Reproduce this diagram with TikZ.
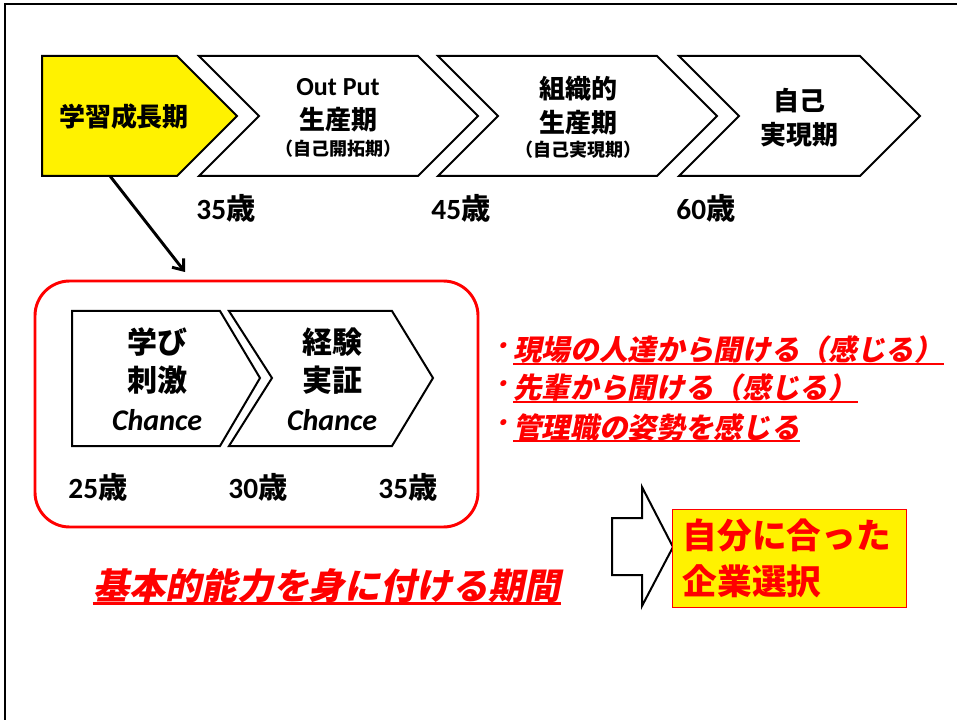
\documentclass[tikz,border=0pt]{standalone}
\usepackage{fontspec}
\setmainfont{Noto Sans CJK JP}
\newfontfamily\lat{Carlito}[BoldFont={Carlito Bold}, ItalicFont={Carlito Italic}, BoldItalicFont={Carlito Bold Italic}]
\newfontfamily\jpsl{Noto Sans CJK JP}[FakeSlant=0.2]
\newcommand{\num}[1]{{\lat\bfseries #1}}
\usetikzlibrary{arrows.meta, positioning}

\begin{document}
\begin{tikzpicture}[x=0.75pt, y=-0.75pt, line join=miter,
	every node/.style={anchor=center, inner sep=0pt, align=center},
	fase/.style={font=\fontsize{19.5}{25.5}\selectfont\bfseries},
	fasesub/.style={font=\fontsize{13.5}{16}\selectfont\bfseries},
	idade/.style={font=\fontsize{22}{26}\selectfont\bfseries},
	etapa/.style={font=\fontsize{22.5}{29}\selectfont\bfseries},
	contorno/.style={draw=black, line width=1.5pt},
	frase/.style={font=\fontsize{21.5}{26}\selectfont\jpsl\bfseries, text=red},
	sublinha/.style={draw=red, line width=1.8pt}]

			\useasboundingbox (0,0) rectangle (957,720);
			
			% Moldura
			\draw[line width=2.2pt] (5,730) -- (5,4) -- (965,4);
			
			% Fases (linha do topo)
			\draw[contorno, fill=yellow] (42,56) -- (177,56) -- (237,116) -- (177,176) -- (42,176) -- cycle;
			\foreach \a/\b in {199/418, 438/657, 679/860} {
				\draw[contorno] (\a,56) -- (\b,56) -- (\b+60,116) -- (\b,176) -- (\a,176) -- (\a+60,116) -- cycle;
			}
			
			\node[fase] (estudo) at (124,117) {学習成長期};
			\node[fase] (producao) at (338,105) {\num{Out Put}\\生産期};
			\node[fasesub] (producaosub) at (338,149) {（自己開拓期）};
			\node[fase] (organizacao) at (578,106) {組織的\\生産期};
			\node[fasesub] (organizacaosub) at (578,150) {（自己実現期）};
			\node[fase] (realizacao) at (799,118) {自己\\実現期};
			
			\node[idade] (i35) at (226,208) {\num{35}歳};
			\node[idade] (i45) at (461,208) {\num{45}歳};
			\node[idade] (i60) at (706,208) {\num{60}歳};
			
			% Seta para o detalhe
			\coordinate (ini) at (110,176);
			\coordinate (fim) at (185,272);
			\draw[line width=2.2pt, -{Straight Barb[length=7pt, width=11pt]}] (ini) -- (fim);
			
			% Detalhe (caixa vermelha)
			\draw[red, line width=2.2pt, rounded corners=26pt] (35,281) rectangle (478,527);
			\draw[contorno] (72,311) -- (220,311) -- (260,378) -- (220,446) -- (72,446) -- cycle;
			\draw[contorno] (229,311) -- (392,311) -- (433,378) -- (392,446) -- (229,446) -- (272,378) -- cycle;
			
			\node[etapa] (aprender) at (157,379) {学び\\刺激\\\num{\itshape Chance}};
			\node[etapa] (provar) at (332,379) {経験\\実証\\\num{\itshape Chance}};
			
			\node[idade] (i25) at (98,487) {\num{25}歳};
			\node[idade] (i30) at (258,487) {\num{30}歳};
			\node[idade] (i35b) at (408,487) {\num{35}歳};
			
			% Frases em vermelho
			\node[frase, anchor=west] (f1) at (513,350) {現場の人達から聞ける（感じる）};
			\node[frase, anchor=west] (f2) at (513,388) {先輩から聞ける（感じる）};
			\node[frase, anchor=west] (f3) at (513,427) {管理職の姿勢を感じる};
			\foreach \f in {f1,f2,f3} {
				\node[frase, anchor=east] (p\f) at ([xshift=-3pt]\f.west) {･};
				\draw[sublinha] (\f.south west) -- (\f.south east);
			}
			
			\node[font=\fontsize{27}{32}\selectfont\jpsl\bfseries, text=red] (basico) at (327,586) {基本的能力を身に付ける期間};
			\draw[sublinha] (basico.south west) -- (basico.south east);
			
			% Seta grossa e resultado
			\draw[contorno, fill=white] (612,518) -- (642,518) -- (642,487) -- (673,547) -- (642,606) -- (642,575) -- (612,575) -- cycle;
			\node[draw=red, fill=yellow, line width=0.8pt, minimum width=176pt, minimum height=74pt, text width=160pt, align=left,
				font=\fontsize{26}{34}\selectfont\bfseries, text=red] (escolha) at (789.5,558.5) {自分に合った\\企業選択};
			
		\end{tikzpicture}
\end{document}
